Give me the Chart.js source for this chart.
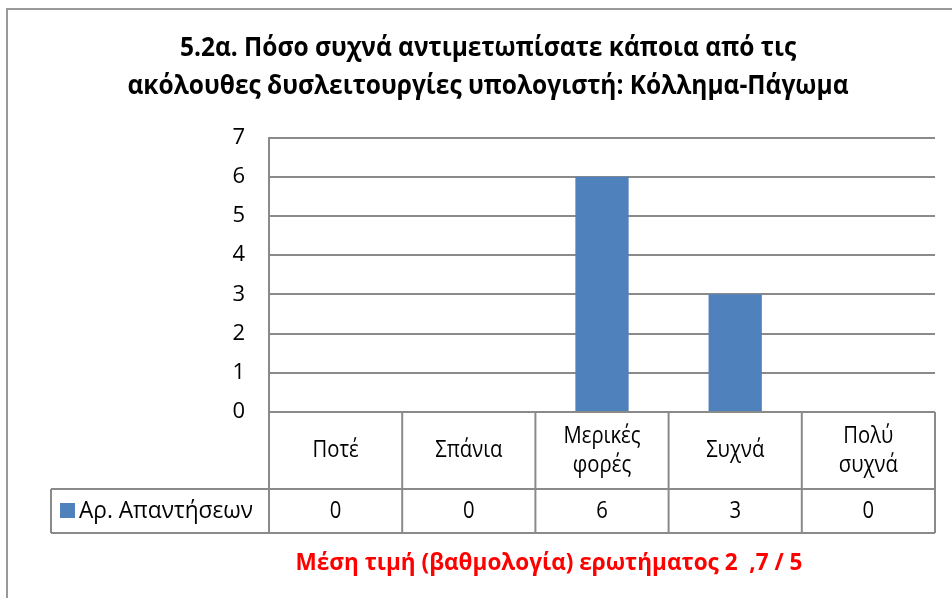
<!DOCTYPE html>
<html><head><meta charset="utf-8">
<style>html,body{margin:0;padding:0;background:#fff}#wrap{position:relative;width:952px;height:598px}</style>
<script src="https://cdn.jsdelivr.net/npm/chart.js@4/dist/chart.umd.min.js"></script>
</head><body><div id="wrap"><canvas id="c" width="952" height="598"></canvas></div>
<script>
const titleLines = ["5.2α. Πόσο συχνά αντιμετωπίσατε κάποια από τις", "ακόλουθες δυσλειτουργίες υπολογιστή: Κόλλημα-Πάγωμα"];
const categories = [["Ποτέ"], ["Σπάνια"], ["Μερικές", "φορές"], ["Συχνά"], ["Πολύ", "συχνά"]];
const seriesName = "Αρ. Απαντήσεων";
const responses = [0, 0, 6, 3, 0];
const yTicks = [0, 1, 2, 3, 4, 5, 6, 7];
const footnote = "Μέση τιμή (βαθμολογία) ερωτήματος 2  ,7 / 5";

const FONT = "'Open Sans', 'Noto Sans', sans-serif";
const BAR = "#4F81BD";
const GRID = "#8a8a8a";
const NARROW = 0.88;

function drawNarrow(ctx, text, x, y, sx) {
  ctx.save();
  ctx.translate(x, y);
  ctx.scale(sx, 1);
  ctx.fillText(text, 0, 0);
  ctx.restore();
}

const tablePlugin = {
  id: "tablePlugin",
  afterDraw(chart) {
    const ctx = chart.ctx;
    const ca = chart.chartArea;
    const x = chart.scales.x;
    const half = (x.getPixelForValue(1) - x.getPixelForValue(0)) / 2;
    const top = ca.bottom, mid = 489, bot = 533, tLeft = 51;
    ctx.save();
    // outer frame
    ctx.strokeStyle = "#9a9a9a"; ctx.lineWidth = 2;
    ctx.beginPath(); ctx.moveTo(7, 598); ctx.lineTo(7, 9); ctx.lineTo(952, 9); ctx.stroke();

    // title
    ctx.fillStyle = "#000"; ctx.textAlign = "center"; ctx.textBaseline = "middle";
    ctx.font = "bold 27px " + FONT;
    const tsx = 721 / ctx.measureText(titleLines[1]).width;
    drawNarrow(ctx, titleLines[0], 488, 48, tsx);
    drawNarrow(ctx, titleLines[1], 488, 86, tsx);

    // table grid
    ctx.strokeStyle = GRID; ctx.lineWidth = 2;
    ctx.beginPath();
    ctx.moveTo(ca.left, top); ctx.lineTo(ca.right, top);
    ctx.moveTo(tLeft, mid); ctx.lineTo(ca.right, mid);
    ctx.moveTo(tLeft, bot); ctx.lineTo(ca.right, bot);
    ctx.moveTo(tLeft, mid); ctx.lineTo(tLeft, bot);
    for (let i = 0; i <= categories.length; i++) {
      const px = i < categories.length ? x.getPixelForValue(i) - half : x.getPixelForValue(categories.length - 1) + half;
      ctx.moveTo(px, top); ctx.lineTo(px, bot);
    }
    ctx.stroke();

    // header labels & values
    ctx.fillStyle = "#000";
    ctx.font = "23px " + FONT;
    const hc = (top + mid) / 2, lh = 29;
    categories.forEach((lines, i) => {
      const cx = x.getPixelForValue(i);
      lines.forEach((t, j) => {
        drawNarrow(ctx, t, cx, hc + (j - (lines.length - 1) / 2) * lh, NARROW);
      });
      drawNarrow(ctx, String(responses[i]), cx, (mid + bot) / 2, NARROW);
    });

    // legend key in table
    ctx.fillStyle = BAR;
    ctx.fillRect(60, 503, 15, 15);
    ctx.fillStyle = "#000"; ctx.textAlign = "left";
    const lsx = 174 / ctx.measureText(seriesName).width;
    drawNarrow(ctx, seriesName, 79, (mid + bot) / 2, lsx);

    // footnote
    ctx.textAlign = "center";
    ctx.fillStyle = "#FF0000";
    ctx.font = "bold 23px " + FONT;
    const fsx = 507 / ctx.measureText(footnote).width;
    drawNarrow(ctx, footnote, 549, 563, fsx);
    ctx.restore();
  }
};

new Chart(document.getElementById("c"), {
  type: "bar",
  data: {
    labels: categories,
    datasets: [{
      label: seriesName,
      data: responses,
      backgroundColor: BAR,
      borderWidth: 0,
      categoryPercentage: 1,
      barPercentage: 0.4
    }]
  },
  options: {
    responsive: false,
    animation: false,
    devicePixelRatio: 1,
    layout: { padding: { top: 137.5, bottom: 186, right: 17, left: 0 } },
    plugins: { legend: { display: false }, title: { display: false }, tooltip: { enabled: false } },
    scales: {
      x: { display: false },
      y: {
        min: 0, max: 7,
        afterFit(s) { s.width = 269; },
        afterBuildTicks(s) { s.ticks = yTicks.map(v => ({ value: v })); },
        ticks: { stepSize: 1, padding: 24, color: "#000", font: { family: FONT, size: 22 } },
        grid: { color: GRID, lineWidth: 2, drawTicks: false },
        border: { display: true, color: GRID, width: 2 }
      }
    }
  },
  plugins: [tablePlugin]
});
</script>
</body></html>
